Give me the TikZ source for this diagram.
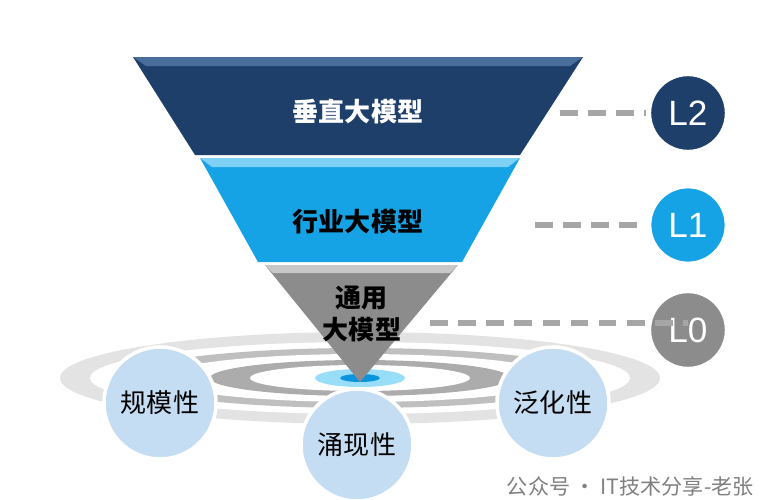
\documentclass[tikz,border=0pt]{standalone}
\usepackage{fontspec}
\newfontfamily\cjk{Noto Sans CJK SC}
\setmainfont{Liberation Sans}
\usetikzlibrary{positioning}
\definecolor{navy}{HTML}{1F3F6B}
\definecolor{navytop}{HTML}{4A6E9C}
\definecolor{skyblue}{HTML}{16A3E5}
\definecolor{skytop}{HTML}{7FD0F5}
\definecolor{stone}{HTML}{8C8C8C}
\definecolor{stonetop}{HTML}{C8C8C8}
\definecolor{pale}{HTML}{C5DDF2}
\tikzset{
  level/.style={circle, draw=white, line width=1.5pt, minimum size=0.62cm, text=white, font=\fontsize{10}{11}\selectfont},
  trait/.style={circle, fill=pale, draw=white, line width=1pt, minimum size=1.12cm, font=\cjk\fontsize{7.4}{9}\selectfont},
  link/.style={draw=gray!70, line width=1.6pt, dash pattern=on 5pt off 3pt},
  label/.style={font=\cjk\fontsize{7.4}{9}\selectfont\bfseries, align=center}
}
\begin{document}
\begin{tikzpicture}[x=0.01cm, y=-0.01cm]
  \useasboundingbox (0,0) rectangle (772,500);
  \fill[white] (0,0) rectangle (772,500);
  % rings
  \fill[gray!22] (360,378) ellipse (300 and 46);
  \fill[white] (360,378) ellipse (270 and 36);
  \fill[gray!50] (360,378) ellipse (235 and 30);
  \fill[white] (360,378) ellipse (200 and 24);
  \fill[gray!65] (360,378) ellipse (150 and 18);
  \fill[white] (360,378) ellipse (110 and 13);
  \fill[cyan!40] (360,378) ellipse (45 and 9);
  \fill[cyan!80!blue] (360,378) ellipse (20 and 4);
  % funnel
  \fill[navy] (133,57) -- (583,57) -- (520,155) -- (195,155) -- cycle;
  \fill[navytop] (133,57) -- (583,57) -- (570,66) -- (146,66) -- cycle;
  \fill[skyblue] (200,158) -- (520,158) -- (462,262) -- (258,262) -- cycle;
  \fill[skytop] (200,158) -- (520,158) -- (508,167) -- (212,167) -- cycle;
  \fill[stone] (265,265) -- (458,265) -- (360,382) -- cycle;
  \fill[stonetop] (265,265) -- (458,265) -- (450,273) -- (273,273) -- cycle;
  \node[label, text=white] (vert) at (358,112) {垂直大模型};
  \node[label] (ind) at (358,222) {行业大模型};
  \node[label] (gen) at (362,314) {通用\\大模型};
  % levels
  \node[level, fill=navy] (l2) at (688,113) {L2};
  \node[level, fill=skyblue] (l1) at (688,225) {L1};
  \node[level, fill=stone] (l0) at (688,330) {L0};
  \coordinate (d2) at (560,113);
  \coordinate (d1) at (535,225);
  \coordinate (d0) at (430,323);
  \draw[link] (d2) -- (l2);
  \draw[link] (d1) -- (l1);
  \draw[link] (d0) -- (l0 |- d0);
  % traits
  \node[trait] (scale) at (160,403) {规模性};
  \node[trait] (emerge) at (357,445) {涌现性};
  \node[trait] (general) at (553,403) {泛化性};
  \node[font=\cjk\fontsize{6}{7}\selectfont, text=gray, anchor=east] (mark) at (766,486) {公众号 · IT技术分享-老张};
\end{tikzpicture}
\end{document}
